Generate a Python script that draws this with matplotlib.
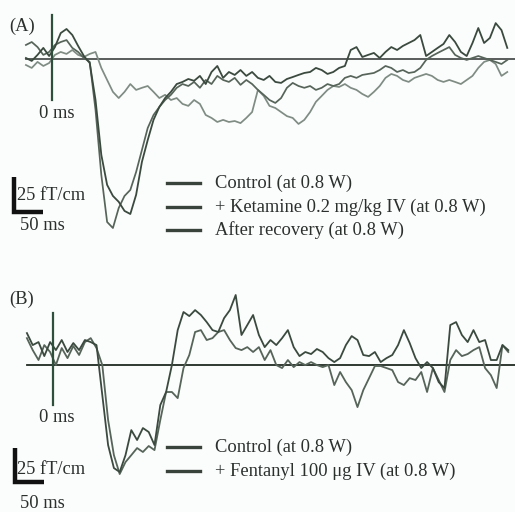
import matplotlib
matplotlib.use("Agg")
import matplotlib.pyplot as plt
from matplotlib.lines import Line2D
import numpy as np

plt.rcParams['font.family'] = ['Liberation Serif', 'DejaVu Serif']

# --- data
# shared time base, ms (one sample every 10 ms)
t_ms = np.arange(-45, 786, 10)

# panel A, fT/cm
a_control = [0.7, -1.4, 2.9, 7.9, 2.1, 8.5, 18.5, 21.4, 17.1, 9.3,
             2.1, -2.9, -29.3, -68.5, -89.9, -97.8, -102.0, -108.5, -110.7, -97.0,
             -73.5, -57.9, -43.5, -34.3, -27.9, -23.5, -17.9, -16.4, -14.3, -15.6,
             -12.1, -17.9, -9.3, -5.0, -13.5, -9.3, -11.4, -7.9, -12.1, -9.3,
             -13.5, -15.0, -12.1, -16.4, -17.1, -14.3, -12.9, -11.4, -10.0, -9.3,
             -6.4, -7.9, -10.7, -9.3, -6.4, -5.0, 6.4, 8.5, 1.4, 2.9,
             4.3, 0.7, 5.0, 8.5, 6.4, 9.3, 11.4, 13.5, 17.1, 2.1,
             5.0, 7.9, 10.7, 17.1, 12.1, 5.0, 2.1, 11.4, 22.1, 11.4,
             15.0, 25.6, 20.6, 7.9]
a_ketamine = [-4.3, -6.4, -2.1, -5.0, -2.9, 2.9, 5.0, 3.6, 6.4, 2.9,
              1.4, 3.6, 5.0, -6.4, -15.0, -23.5, -27.9, -23.5, -17.9, -22.1,
              -20.6, -19.3, -23.5, -27.9, -25.6, -29.3, -27.9, -32.1, -33.5, -29.3,
              -32.1, -40.0, -42.1, -45.0, -43.5, -45.0, -44.3, -45.8, -42.1, -37.9,
              -22.1, -26.4, -33.5, -35.0, -37.9, -40.8, -42.1, -46.4, -43.5, -37.9,
              -30.6, -26.4, -22.1, -19.3, -20.0, -17.9, -20.6, -22.1, -25.0, -27.1,
              -23.5, -19.3, -13.5, -10.7, -12.1, -15.0, -16.4, -13.5, -12.1, -10.7,
              -12.1, -15.0, -16.4, -15.0, -16.4, -17.9, -15.0, -12.1, -6.4, -2.1,
              -0.7, -3.6, -12.1, -9.3]
a_recovery = [10.0, 12.1, 8.5, 2.9, 5.0, 10.0, 12.1, 13.5, 7.9, 5.0,
              0.7, -2.1, -36.4, -82.8, -116.4, -120.7, -106.4, -97.8, -93.5, -80.7,
              -65.0, -49.3, -40.0, -34.3, -29.3, -25.6, -20.6, -17.9, -19.3, -16.4,
              -20.6, -15.0, -17.9, -12.1, -15.0, -16.4, -13.5, -18.5, -15.0, -17.9,
              -22.1, -25.6, -29.3, -31.4, -27.9, -20.6, -17.1, -19.3, -20.6, -19.3,
              -22.1, -20.6, -17.9, -19.3, -17.9, -13.5, -12.1, -13.5, -11.4, -10.7,
              -10.0, -7.9, -5.0, -6.4, -9.3, -7.9, -10.0, -9.3, -6.4, -0.7,
              2.1, 4.3, 6.4, 8.5, 2.9, 0.7, -0.7, 0.7, 2.1, 0.7,
              -0.7, -2.1, -3.6, -0.7]

# panel B, fT/cm
b_control = [23.5, 14.7, 16.9, 6.6, 16.9, 11.0, 18.4, 9.6, 16.2, 11.0,
             18.4, 16.9, 14.7, -22.1, -58.8, -75.7, -78.6, -66.2, -47.8, -55.1,
             -46.3, -49.2, -58.8, -29.4, -19.8, 0.0, 25.7, 39.0, 36.0, 40.4,
             36.8, 31.6, 25.7, 24.3, 34.5, 40.4, 51.5, 22.1, 29.4, 36.8,
             22.1, 13.2, 18.4, 14.7, 19.8, 25.7, 13.2, 6.6, 9.6, 8.1,
             11.8, 9.6, 5.1, 2.2, 5.1, 14.7, 21.3, 18.4, 7.4, 6.6,
             9.6, 2.2, 5.1, 7.4, 14.7, 25.7, 16.2, 5.1, -2.2, 2.2,
             -2.2, -12.5, -16.9, 29.4, 31.6, 22.1, 16.9, 25.7, 16.9, 18.4,
             3.7, 3.7, 14.7, 11.0]
b_fentanyl = [19.8, 11.0, 3.7, 14.7, 9.6, 0.0, 12.5, 5.1, 14.0, 7.4,
              16.9, 19.8, 12.5, 0.0, -40.4, -66.2, -80.1, -71.3, -66.2, -61.0,
              -63.9, -59.5, -62.5, -40.4, -19.8, -19.8, -24.3, -2.2, 7.4, 24.3,
              25.7, 18.4, 19.8, 24.3, 25.7, 18.4, 12.5, 11.0, 13.2, 9.6,
              13.2, 3.7, 11.0, 0.0, -2.2, 3.7, -1.5, 2.2, 0.0, 2.2,
              0.0, -1.5, 0.0, -14.7, -5.1, -12.5, -18.4, -30.9, -18.4, -9.6,
              -0.7, -0.7, -2.2, -3.7, -12.5, -14.7, -9.6, -11.0, -5.1, -19.8,
              -2.2, -11.0, -19.8, 3.7, 11.0, 6.6, 8.1, 11.0, 13.2, -2.2,
              -7.4, -16.9, 14.7, 9.6]

labels_a = ["Control (at 0.8 W)", "+ Ketamine 0.2 mg/kg IV (at 0.8 W)",
            "After recovery (at 0.8 W)"]
labels_b = ["Control (at 0.8 W)", "+ Fentanyl 100 \u03bcg IV (at 0.8 W)"]

scale_ft = 25   # fT/cm
scale_ms = 50   # ms

# --- styles
ink = '#2b302d'
dark = '#3b4a3f'
mid = '#566459'
light = '#7f8c83'
green = '#2e4f3c'

W, H = 515, 512
fig = plt.figure(figsize=(W / 100, H / 100), dpi=100)
fig.patch.set_facecolor('#fbfcfc')


def fx(x):
    return x / W


def fy(y):
    return 1 - y / H


# panel A
axA = fig.add_axes([0, fy(250), 1, 250 / H])
axA.set_xlim(-89.7, 798.3)
axA.set_ylim(-136.4, 42.1)
axA.axis('off')
axA.plot([-45, 800], [0, 0], color='#4b504d', lw=1.3)
axA.plot(t_ms, a_ketamine, color=light, lw=1.25)
axA.plot(t_ms, a_recovery, color=mid, lw=1.25)
axA.plot(t_ms, a_control, color=dark, lw=1.3)
axA.plot([0, 0], [31.4, -29.3], color=green, lw=1.6)
axA.plot([-65.5, -65.5, -65.5 + scale_ms], [-109.3 + scale_ft, -109.3, -109.3],
         color='#111', lw=3.2, solid_joinstyle='miter', solid_capstyle='butt')

# panel B
axB = fig.add_axes([0, 0, 1, 257 / H])
axB.set_xlim(-91.4, 796.6)
axB.set_ylim(-108.0, 80.9)
axB.axis('off')
axB.plot([-45, 800], [0, 0], color='#1f2a22', lw=1.3)
axB.plot(t_ms, b_fentanyl, color=mid, lw=1.3)
axB.plot(t_ms, b_control, color=dark, lw=1.3)
axB.plot([0, 0], [38.2, -29.4], color=green, lw=1.6)
axB.plot([-65.5, -65.5, -65.5 + scale_ms], [-86.0 + scale_ft, -86.0, -86.0],
         color='#111', lw=3.2, solid_joinstyle='miter', solid_capstyle='butt')

fs = 13.3
for txt, x, y in [("(A)", 9, 26), ("(B)", 9, 299)]:
    fig.text(fx(x), fy(y), txt, fontsize=fs, color=ink, va='center', ha='left')
for y in (113, 417):
    fig.text(fx(57), fy(y), "0 ms", fontsize=fs, color=ink, va='center', ha='center')
for y1, y2 in [(196, 226), (470, 503)]:
    fig.text(fx(17), fy(y1), f"{scale_ft} fT/cm", fontsize=fs, color=ink, va='center')
    fig.text(fx(20), fy(y2), f"{scale_ms} ms", fontsize=fs, color=ink, va='center')

for labels, ys in [(labels_a, (183, 207, 230)), (labels_b, (447, 471))]:
    for lab, y in zip(labels, ys):
        fig.add_artist(Line2D([fx(167), fx(200)], [fy(y), fy(y)],
                              color='#3a423c', lw=2.4, transform=fig.transFigure))
        fig.text(fx(215), fy(y), lab, fontsize=fs, color=ink, va='center')

fig.savefig('out.png', dpi=100, facecolor=fig.get_facecolor())
